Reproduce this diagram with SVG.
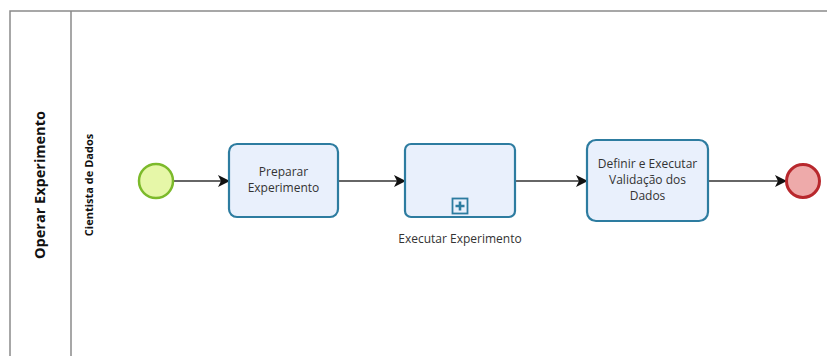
<svg xmlns="http://www.w3.org/2000/svg" width="827" height="356" viewBox="0 0 827 356">
  <defs>
    <style>
      .pool { fill: none; stroke: #8a8a8a; stroke-width: 1.5; }
      .task { fill: #e9f0fc; stroke: #2d7ca0; stroke-width: 2.2; }
      .flow { fill: none; stroke: #333; stroke-width: 1.6; }
      .lbl { font-family: "Open Sans", "Liberation Sans", sans-serif; font-size: 12px; fill: #333; text-anchor: middle; }
      .hdr { font-family: "Open Sans", "Liberation Sans", sans-serif; font-weight: bold; fill: #111; text-anchor: middle; }
    </style>
    <marker id="arrow" viewBox="0 0 12 12" refX="11" refY="6" markerWidth="12" markerHeight="12" markerUnits="userSpaceOnUse" orient="auto">
      <path d="M0,0 L12,6 L0,12 L3,6 Z" fill="#111"/>
    </marker>
  </defs>
  <rect width="827" height="356" fill="#fff"/>

  <g id="pool">
    <path class="pool" d="M10,356 V11 H827"/>
    <line class="pool" x1="71" y1="11" x2="71" y2="356"/>
    <text class="hdr" font-size="14.5" transform="translate(45,185) rotate(-90)">Operar Experimento</text>
  </g>
  <g id="lane">
    <text class="hdr" font-size="11" transform="translate(93,185) rotate(-90)">Cientista de Dados</text>
  </g>

  <g id="connectors">
    <line class="flow" x1="174" y1="181" x2="229" y2="181" marker-end="url(#arrow)"/>
    <line class="flow" x1="338" y1="181" x2="405" y2="181" marker-end="url(#arrow)"/>
    <line class="flow" x1="515" y1="181" x2="587" y2="181" marker-end="url(#arrow)"/>
    <line class="flow" x1="708" y1="181" x2="786" y2="181" marker-end="url(#arrow)"/>
  </g>

  <g id="start">
    <circle cx="156" cy="181" r="17" fill="#e6f7a8" stroke="#7cba2b" stroke-width="2.5"/>
  </g>

  <g id="preparar">
    <rect class="task" x="229" y="144" width="109" height="73" rx="8"/>
    <text class="lbl" x="283.5" y="176">Preparar</text>
    <text class="lbl" x="283.5" y="192">Experimento</text>
  </g>

  <g id="executar">
    <rect class="task" x="405" y="144" width="110" height="73" rx="6"/>
    <rect x="452.5" y="198.5" width="15" height="15" fill="#e9f0fc" stroke="#2d7ca0" stroke-width="1.8"/>
    <path d="M460,201.5 V210.5 M455.5,206 H464.5" stroke="#2d7ca0" stroke-width="2.6"/>
    <text class="lbl" x="460" y="243">Executar Experimento</text>
  </g>

  <g id="validacao">
    <rect class="task" x="587" y="140" width="121" height="81" rx="9"/>
    <text class="lbl" x="647.5" y="168">Definir e Executar</text>
    <text class="lbl" x="647.5" y="184">Validação dos</text>
    <text class="lbl" x="647.5" y="200">Dados</text>
  </g>

  <g id="end">
    <circle cx="803" cy="181" r="16.5" fill="#eeaaaa" stroke="#b8282d" stroke-width="3"/>
  </g>
</svg>
